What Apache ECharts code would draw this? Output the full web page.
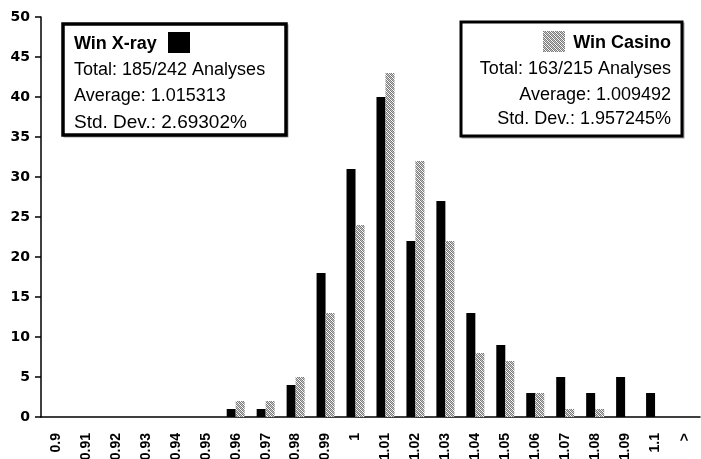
<!DOCTYPE html>
<html>
<head>
<meta charset="utf-8">
<script src="https://cdn.jsdelivr.net/npm/echarts@6/dist/echarts.min.js"></script>
<style>
  html, body { margin: 0; padding: 0; background: #fff; }
  #chart { width: 701px; height: 459px; }
</style>
</head>
<body>
<div id="chart"></div>
<script>
// Ratio bins (last bin ">" collects everything above 1.1)
const categories = ['0.9','0.91','0.92','0.93','0.94','0.95','0.96','0.97','0.98','0.99','1',
                    '1.01','1.02','1.03','1.04','1.05','1.06','1.07','1.08','1.09','1.1','>'];
// Number of analyses per bin
const xrayCounts   = [0,0,0,0,0,0,1,1,4,18,31,40,22,27,13,9,3,5,3,5,3,0];
const casinoCounts = [0,0,0,0,0,0,2,2,5,13,24,43,32,22,8,7,3,1,1,0,0,0];
const yTicks = { min: 0, max: 50, interval: 5 };

const xrayInfo   = ['Win X-ray', 'Total: 185/242 Analyses', 'Average: 1.015313', 'Std. Dev.: 2.69302%'];
const casinoInfo = ['Win Casino', 'Total: 163/215 Analyses', 'Average: 1.009492', 'Std. Dev.: 1.957245%'];

// Fine grey dither used for the Win Casino bars
function makeHatch() {
  const c = document.createElement('canvas');
  c.width = 4; c.height = 4;
  const g = c.getContext('2d');
  g.fillStyle = '#ffffff';
  g.fillRect(0, 0, 4, 4);
  g.fillStyle = '#7a7a7a';
  for (let i = 0; i < 4; i++) {
    g.fillRect(i, i, 1, 1);
    g.fillRect((i + 2) % 4, i, 1, 1);
  }
  g.fillStyle = '#c4c4c4';
  for (let i = 0; i < 4; i++) g.fillRect((i + 1) % 4, i, 1, 1);
  return c;
}
const hatch = { image: makeHatch(), repeat: 'repeat' };

const font = "'Liberation Sans', Arial, sans-serif";
const chart = echarts.init(document.getElementById('chart'), null, { renderer: 'canvas' });

function line(x, y, text, size, bold, right) {
  return {
    type: 'text',
    style: {
      x: x, y: y, text: text,
      font: (bold ? 'bold ' : '') + size + 'px ' + font,
      fill: '#000', textAlign: right ? 'right' : 'left', textVerticalAlign: 'middle'
    }
  };
}

function frame(x, y, w, h, lw) {
  return [
    { type: 'rect', shape: { x: x + 1.5, y: y + 1.5, width: w, height: h },
      style: { fill: 'none', stroke: '#a0a0a0', lineWidth: 2 } },
    { type: 'rect', shape: { x: x, y: y, width: w, height: h },
      style: { fill: '#fff', stroke: '#000', lineWidth: lw } }
  ];
}

const xrayBox = {
  type: 'group',
  children: frame(63, 24, 223, 111, 3.5).concat([
    line(74, 44, xrayInfo[0], 18, true, false),
    line(74, 70, xrayInfo[1], 18, false, false),
    line(74, 96.5, xrayInfo[2], 18, false, false),
    line(74, 122.5, xrayInfo[3], 19, false, false),
    { type: 'rect', shape: { x: 168, y: 32, width: 22, height: 21 }, style: { fill: '#000' } }
  ])
};

const casinoBox = {
  type: 'group',
  children: frame(461, 22, 221, 114, 3).concat([
    line(671, 43.5, casinoInfo[0], 18, true, true),
    line(671, 69.5, casinoInfo[1], 18, false, true),
    line(671, 95, casinoInfo[2], 18, false, true),
    line(671, 119, casinoInfo[3], 18, false, true),
    { type: 'rect', shape: { x: 543, y: 31, width: 22, height: 21 }, style: { fill: hatch } }
  ])
};

chart.setOption({
  backgroundColor: '#fff',
  animation: false,
  grid: { left: 41, right: 1, top: 17, bottom: 42, containLabel: false, outerBoundsMode: 'none' },
  xAxis: {
    type: 'category',
    data: categories,
    axisLine: { lineStyle: { color: '#000', width: 1.5 } },
    axisTick: { length: 6, lineStyle: { color: '#000', width: 1.5 } },
    axisLabel: { interval: 0, rotate: 90, margin: 16, color: '#000',
                 fontWeight: 'bold', fontSize: 14, fontFamily: font },
    splitLine: { show: false }
  },
  yAxis: {
    type: 'value',
    min: yTicks.min, max: yTicks.max, interval: yTicks.interval,
    axisLine: { show: true, lineStyle: { color: '#000', width: 1.5 } },
    axisTick: { show: true, length: 6, lineStyle: { color: '#000', width: 1.5 } },
    axisLabel: { margin: 11, color: '#000', fontWeight: 'bold', fontSize: 14,
                 fontFamily: "'DejaVu Sans', sans-serif" },
    splitLine: { show: false }
  },
  series: [
    { name: 'Win X-ray', type: 'bar', data: xrayCounts, barWidth: 9, barGap: '0%',
      itemStyle: { color: '#000' } },
    { name: 'Win Casino', type: 'bar', data: casinoCounts, barWidth: 9,
      itemStyle: { color: hatch } }
  ],
  graphic: [xrayBox, casinoBox]
});
</script>
</body>
</html>
